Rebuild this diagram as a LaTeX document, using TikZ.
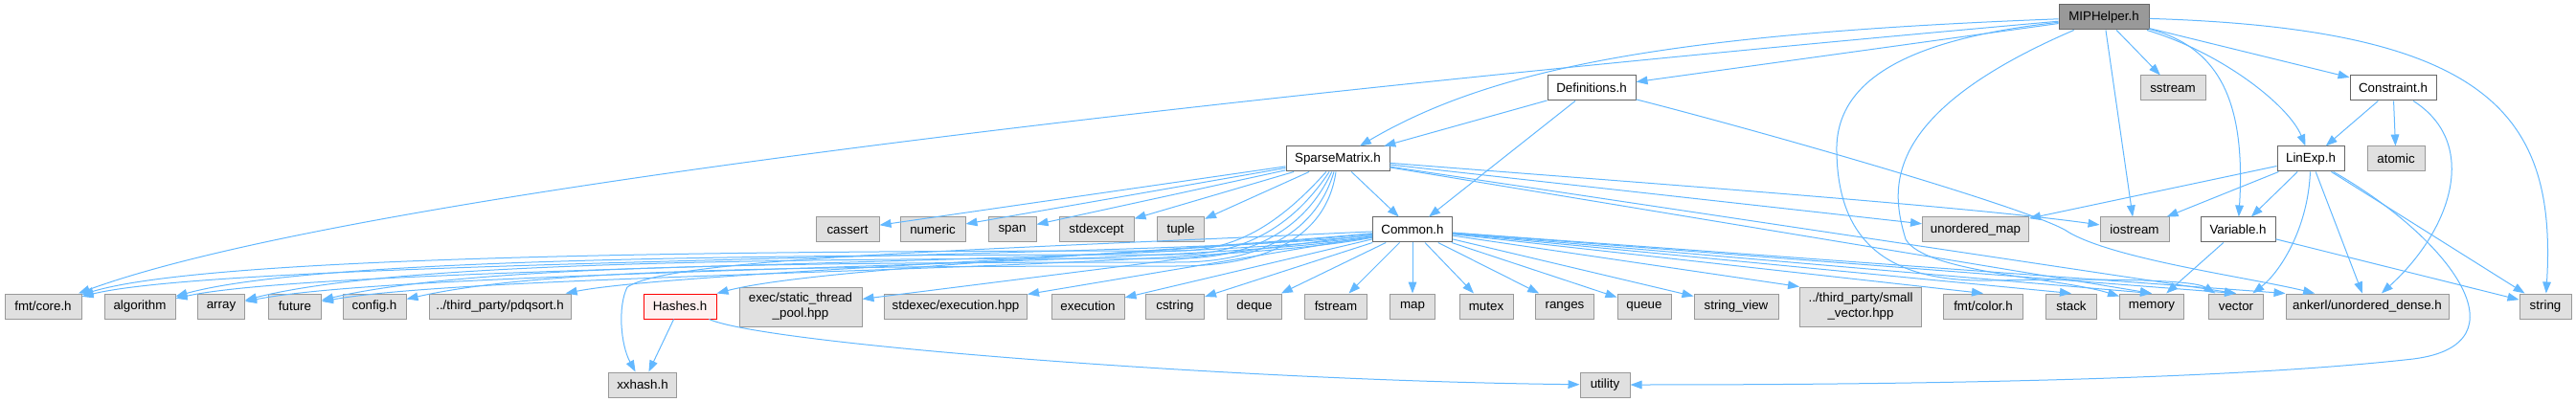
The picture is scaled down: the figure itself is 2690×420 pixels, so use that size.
\documentclass[tikz,border=0pt]{standalone}
\usepackage{fontspec}
\setmainfont{Liberation Sans}
\usetikzlibrary{arrows.meta}
\definecolor{edgec}{HTML}{63B8FF}
\definecolor{gfill}{HTML}{E0E0E0}
\definecolor{gdraw}{HTML}{999999}
\definecolor{wdraw}{HTML}{666666}
\definecolor{mfill}{HTML}{999999}
\definecolor{hfill}{HTML}{FFF0F0}
\definecolor{hdraw}{HTML}{FF0000}
\begin{document}
\begin{tikzpicture}[x=0.75pt,y=-0.75pt,
 base/.style={draw, line width=0.75pt, inner sep=0pt, minimum height=19.5pt, font=\fontsize{10pt}{12pt}\selectfont, align=center},
 bw/.style={minimum width=#1*0.75pt},
 gn/.style={base, fill=gfill, draw=gdraw},
 wn/.style={base, fill=white, draw=wdraw},
 mn/.style={base, fill=mfill, draw=wdraw},
 hn/.style={base, fill=hfill, draw=hdraw},
 tall/.style={minimum height=30.75pt},
 e/.style={draw=edgec, line width=0.75pt, -{Triangle[length=9pt,width=6.5pt]}}
]
\useasboundingbox (0,0) rectangle (2690,420);

% row 0
\node[mn,bw=94] (mip) at (2197,18) {MIPHelper.h};
% row 1
\node[wn,bw=92] (defs) at (1662,92) {Definitions.h};
\node[gn,bw=68] (sstream) at (2269,92) {sstream};
\node[wn,bw=90] (con) at (2499,92) {Constraint.h};
% row 2
\node[wn,bw=108] (sm) at (1397,166) {SparseMatrix.h};
\node[wn,bw=70] (lin) at (2413,166) {LinExp.h};
\node[gn,bw=60] (atomic) at (2502,166) {atomic};
% row 3
\node[gn,bw=66] (cassert) at (885,240) {cassert};
\node[gn,bw=68] (numeric) at (974,240) {numeric};
\node[gn,bw=50] (span) at (1057,240) {span};
\node[gn,bw=78] (stdexcept) at (1145,240) {stdexcept};
\node[gn,bw=49] (tuple) at (1233,240) {tuple};
\node[wn,bw=83] (com) at (1475,240) {Common.h};
\node[gn,bw=111] (umap) at (2063,240) {unordered\_map};
\node[gn,bw=72] (iostream) at (2229,240) {iostream};
\node[wn,bw=78] (var) at (2337,240) {Variable.h};
% row 4
\node[gn,bw=80] (fmtcore) at (45,320) {fmt/core.h};
\node[gn,bw=74] (algorithm) at (146,320) {algorithm};
\node[gn,bw=49] (array) at (231,320) {array};
\node[gn,bw=55] (future) at (308,320) {future};
\node[gn,bw=66] (config) at (391,320) {config.h};
\node[gn,bw=148] (pdq) at (522,320) {../third\_party/pdqsort.h};
\node[hn,bw=76] (hashes) at (710,320) {Hashes.h};
\node[gn,bw=128,tall] (exec) at (836,320.5) {exec/static\_thread\\\_pool.hpp};
\node[gn,bw=149] (stdexec) at (998,320) {stdexec/execution.hpp};
\node[gn,bw=76] (execution) at (1136,320) {execution};
\node[gn,bw=61] (cstring) at (1227,320) {cstring};
\node[gn,bw=57] (deque) at (1310,320) {deque};
\node[gn,bw=65] (fstream) at (1395,320) {fstream};
\node[gn,bw=47] (map) at (1475,320) {map};
\node[gn,bw=56] (mutex) at (1552,320) {mutex};
\node[gn,bw=61] (ranges) at (1634,320) {ranges};
\node[gn,bw=56] (queue) at (1717,320) {queue};
\node[gn,bw=88] (strview) at (1813,320) {string\_view};
\node[gn,bw=127,tall] (smallvec) at (1943,320.5) {../third\_party/small\\\_vector.hpp};
\node[gn,bw=83] (fmtcolor) at (2071,320) {fmt/color.h};
\node[gn,bw=53] (stack) at (2163,320) {stack};
\node[gn,bw=67] (memory) at (2247,320) {memory};
\node[gn,bw=57] (vector) at (2335,320) {vector};
\node[gn,bw=170] (ankerl) at (2472,320) {ankerl/unordered\_dense.h};
\node[gn,bw=54] (string) at (2658,320) {string};
% row 5
\node[gn,bw=71] (xxhash) at (671,402) {xxhash.h};
\node[gn,bw=52] (utility) at (1676,402) {utility};

% MIPHelper.h
\draw[e] (mip) .. controls (1500,80) and (400,190) .. (fmtcore);
\draw[e] (mip) .. controls (1750,35) and (1560,70) .. (sm);
\draw[e] (mip) -- (defs);
\draw[e] (mip) .. controls (1960,120) and (1975,200) .. (1990,250) .. controls (2010,285) and (2150,290) .. (memory);
\draw[e] (mip) .. controls (2000,40) and (1915,80) .. (1918,160) .. controls (1920,260) and (1980,295) .. (2080,293) .. controls (2200,291) and (2290,292) .. (vector);
\draw[e] (mip) -- (iostream);
\draw[e] (mip) -- (sstream);
\draw[e] (mip) .. controls (2320,50) and (2345,110) .. (var);
\draw[e] (mip) .. controls (2320,55) and (2390,110) .. (lin);
\draw[e] (mip) -- (con);
\draw[e] (mip) .. controls (2600,30) and (2670,120) .. (string);

% Definitions.h
\draw[e] (defs) -- (sm);
\draw[e] (defs) -- (com);
\draw[e] (defs) .. controls (1850,140) and (2110,215) .. (2156,240) .. controls (2200,270) and (2350,290) .. (ankerl);

% Constraint.h
\draw[e] (con) -- (lin);
\draw[e] (con) -- (atomic);
\draw[e] (con) .. controls (2590,150) and (2560,240) .. (ankerl);

% LinExp.h
\draw[e] (lin) -- (umap);
\draw[e] (lin) -- (iostream);
\draw[e] (lin) -- (var);
\draw[e] (lin) .. controls (2410,240) and (2380,285) .. (vector);
\draw[e] (lin) -- (ankerl);
\draw[e] (lin) -- (string);
\draw[e] (lin) .. controls (2560,250) and (2640,360) .. (2520,375) .. controls (2300,400) and (1900,402) .. (utility);

% Variable.h
\draw[e] (var) -- (memory);
\draw[e] (var) -- (string);

% SparseMatrix.h
\draw[e] (sm) -- (cassert);
\draw[e] (sm) -- (numeric);
\draw[e] (sm) -- (span);
\draw[e] (sm) -- (stdexcept);
\draw[e] (sm) -- (tuple);
\draw[e] (sm) -- (com);
\draw[e] (sm) -- (umap);
\draw[e] (sm) .. controls (1700,190) and (2050,215) .. (iostream);
\draw[e] (sm) -- (memory.north);
\draw[e] (sm) -- (vector.north);
\draw[e] (sm) .. controls (1335,235) and (1290,262) .. (1230,262) .. controls (800,262) and (225,266) .. (fmtcore);
\draw[e] (sm) .. controls (1348,240) and (1295,266) .. (1230,266) .. controls (800,266) and (326,270) .. (algorithm);
\draw[e] (sm) .. controls (1360,245) and (1300,270) .. (1230,270) .. controls (800,270) and (411,274) .. (array);
\draw[e] (sm) .. controls (1372,250) and (1305,274) .. (1230,274) .. controls (800,274) and (488,278) .. (future);
\draw[e] (sm) .. controls (1384,255) and (1310,278) .. (1230,278) .. controls (800,278) and (560,282) .. (config);

% Common.h
\draw[e] (com) .. controls (1250,270) and (245,270) .. (fmtcore);
\draw[e] (com) .. controls (1250,276) and (346,276) .. (algorithm);
\draw[e] (com) .. controls (1250,280) and (431,280) .. (array);
\draw[e] (com) .. controls (1250,284) and (508,284) .. (future);
\draw[e] (com) .. controls (1200,268) and (700,285) .. (pdq);
\draw[e] (com) .. controls (1200,265) and (850,280) .. (hashes.north east);
\draw[e] (com) .. controls (1000,262) and (700,270) .. (655,300) .. controls (645,320) and (648,360) .. (xxhash);
\draw[e] (com) -- (exec);
\draw[e] (com) -- (stdexec);
\draw[e] (com) -- (execution);
\draw[e] (com) -- (cstring);
\draw[e] (com) -- (deque);
\draw[e] (com) -- (fstream);
\draw[e] (com) -- (map);
\draw[e] (com) -- (mutex);
\draw[e] (com) -- (ranges);
\draw[e] (com) -- (queue);
\draw[e] (com) -- (strview);
\draw[e] (com) -- (smallvec.north west);
\draw[e] (com) -- (fmtcolor.north);
\draw[e] (com) -- (stack.north);
\draw[e] (com) -- (memory.north);
\draw[e] (com) -- (vector.north);
\draw[e] (com) -- (ankerl.north west);

% Hashes.h
\draw[e] (hashes) -- (xxhash);
\draw[e] (hashes) .. controls (800,360) and (1300,398) .. (utility);
\end{tikzpicture}
\end{document}
